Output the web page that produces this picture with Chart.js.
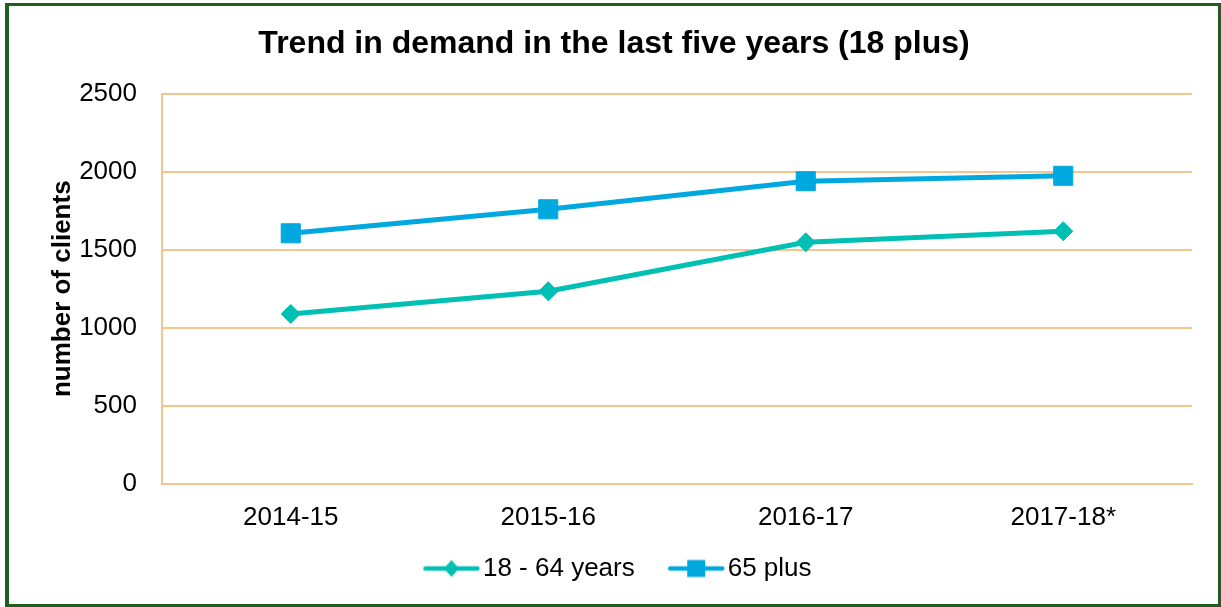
<!DOCTYPE html>
<html>
<head>
<meta charset="utf-8">
<title>Trend in demand in the last five years (18 plus)</title>
<script src="https://cdn.jsdelivr.net/npm/chart.js@4.4.1/dist/chart.umd.min.js"></script>
<style>
    html, body { margin: 0; padding: 0; background: #fff; }
    #wrap { position: relative; width: 1221px; height: 607px; }
</style>
</head>
<body>
<div id="wrap"><canvas id="trendChart"></canvas></div>
<script>
// values
const categories = ['2014-15', '2015-16', '2016-17', '2017-18*'];
const ages18to64 = [1088, 1234, 1548, 1619];
const ages65plus = [1606, 1760, 1940, 1975];
const yTicks = [0, 500, 1000, 1500, 2000, 2500];

const tealColor = '#00BFB3';
const blueColor = '#00A8E0';
const gridColor = '#F3C68E';

// little line+marker swatch for the legend, like the Excel one
function makeSwatch(color, marker) {
    const c = document.createElement('canvas');
    c.width = 100;
    c.height = 24;
    const g = c.getContext('2d');
    const x0 = 29.75, x1 = 86.75, cy = 12;
    g.strokeStyle = color;
    g.lineWidth = 4.5;
    g.lineCap = 'round';
    g.beginPath();
    g.moveTo(x0 + 2.5, cy);
    g.lineTo(x1 - 2.5, cy);
    g.stroke();
    g.fillStyle = color;
    const mx = (x0 + x1) / 2;
    if (marker === 'diamond') {
        g.beginPath();
        g.moveTo(mx, cy - 8.5);
        g.lineTo(mx + 7.5, cy);
        g.lineTo(mx, cy + 8.5);
        g.lineTo(mx - 7.5, cy);
        g.closePath();
        g.fill();
    } else {
        g.fillRect(mx - 9, cy - 8.5, 18, 17);
    }
    return c;
}

const swatches = [makeSwatch(tealColor, 'diamond'), makeSwatch(blueColor, 'square')];

const frameBorder = {
    id: 'frameBorder',
    beforeDraw(chart) {
        const ctx = chart.ctx;
        ctx.save();
        ctx.fillStyle = '#fff';
        ctx.fillRect(0, 0, chart.width, chart.height);
        ctx.restore();
    },
    afterDraw(chart) {
        const ctx = chart.ctx;
        ctx.save();
        ctx.fillStyle = '#1F5E1F';
        ctx.fillRect(5, 3, 1216, 3);     // top
        ctx.fillRect(5, 604, 1216, 3);   // bottom
        ctx.fillRect(5, 3, 4, 604);      // left
        ctx.fillRect(1218, 3, 3, 604);   // right
        ctx.restore();
    }
};

const ctx = document.getElementById('trendChart').getContext('2d');
const trendChart = new Chart(ctx, {
    type: 'line',
    data: {
        labels: categories,
        datasets: [
            {
                label: '18 - 64 years',
                data: ages18to64,
                borderColor: tealColor,
                backgroundColor: tealColor,
                borderWidth: 5,
                pointStyle: 'rectRot',
                pointRadius: 9.5,
                pointHoverRadius: 9.5,
                pointBorderWidth: 1,
                tension: 0
            },
            {
                label: '65 plus',
                data: ages65plus,
                borderColor: blueColor,
                backgroundColor: blueColor,
                borderWidth: 5,
                pointStyle: 'rect',
                pointRadius: 13.5,
                pointHoverRadius: 13.5,
                pointBorderWidth: 1,
                tension: 0
            }
        ]
    },
    options: {
        responsive: true,
        maintainAspectRatio: false,
        animation: false,
        layout: {
            padding: { left: 7, right: 0, top: 0, bottom: 15.5 }
        },
        scales: {
            x: {
                offset: true,
                grid: { display: false },
                border: { display: true, color: gridColor, width: 2 },
                ticks: {
                    color: '#000',
                    padding: 11,
                    font: { family: 'Liberation Sans, Arial, sans-serif', size: 26 }
                },
                afterFit: function(scale) { scale.height = 45.5; }
            },
            y: {
                min: 0,
                max: 2500,
                afterBuildTicks: function(scale) {
                    scale.ticks = yTicks.map(v => ({ value: v }));
                },
                grid: { color: gridColor, lineWidth: 2, drawTicks: false },
                border: { display: true, color: gridColor, width: 2 },
                ticks: {
                    color: '#000',
                    padding: 25,
                    font: { family: 'Liberation Sans, Arial, sans-serif', size: 26 },
                    callback: value => String(value)
                },
                title: {
                    display: true,
                    text: 'number of clients',
                    color: '#000',
                    padding: { top: 40, bottom: 0 },
                    font: { family: 'Liberation Sans, Arial, sans-serif', size: 26, weight: 'bold' }
                },
                afterFit: function(scale) { scale.width = 155; }
            },
            // empty right-hand gutter so the plot ends where the reference does
            gutter: {
                type: 'linear',
                position: 'right',
                grid: { display: false },
                border: { display: false },
                ticks: { display: false },
                afterFit: function(scale) { scale.width = 29; }
            }
        },
        plugins: {
            title: {
                display: true,
                text: 'Trend in demand in the last five years (18 plus)',
                color: '#000',
                padding: { top: 25, bottom: 30.6 },
                font: { family: 'Liberation Sans, Arial, sans-serif', size: 32, weight: 'bold' }
            },
            legend: {
                display: true,
                position: 'bottom',
                labels: {
                    color: '#000',
                    usePointStyle: true,
                    pointStyleWidth: 53.5,
                    padding: 26.5,
                    font: { family: 'Liberation Sans, Arial, sans-serif', size: 26 },
                    generateLabels: function(chart) {
                        const items = Chart.defaults.plugins.legend.labels.generateLabels(chart);
                        items.forEach((item, i) => { item.pointStyle = swatches[i]; });
                        return items;
                    }
                }
            },
            tooltip: { enabled: false }
        }
    },
    plugins: [frameBorder]
});
</script>
</body>
</html>
